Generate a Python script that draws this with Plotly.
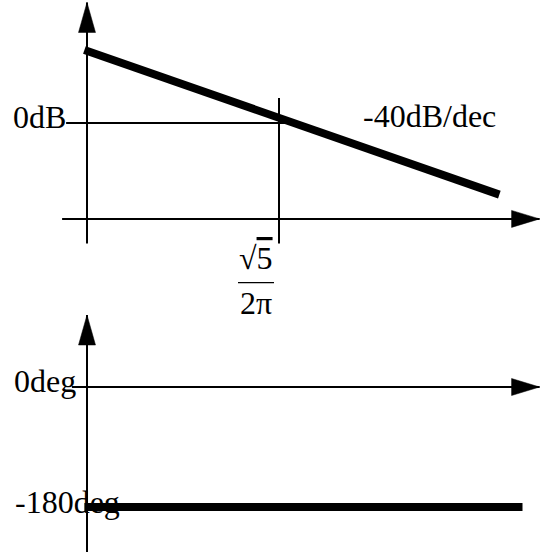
import numpy as np
import plotly.graph_objects as go

W, H = 542, 552

# Crossover frequency sqrt(5) / (2*pi)
f_c = np.sqrt(5) / (2 * np.pi)

# Magnitude asymptote: -40 dB/dec
mag_freq = [0.0345, 5.0]
mag_db = [43.6, -42.8]

# Phase asymptote: constant -180 deg
phase_freq = [0.0345, 6.6]
phase_deg = [-180, -180]

# Axis sketch extents
axis_freq = f_c / 10                 # where both vertical axes stand
mag_axis_db = [-72, 72]              # vertical magnitude axis
freq_axis_db = -57.3                 # level of the magnitude plot's frequency axis
freq_axis_span = [0.0264, 8.1]
zero_db_span = [0.0277, 0.471]       # 0 dB reference line
cross_db = [-72, 15]                 # vertical line at the crossover
phase_axis_deg = [-250, 108]         # vertical phase axis
phase_freq_axis_span = [0.0297, 8.1] # 0 deg axis

# Scales (pixels per unit)
DEC_PX = 192.0
DB_PX = 1.674
DEG_PX = 120.0 / 180.0

FONT = dict(family="Liberation Serif, Times New Roman, serif", size=32, color="black")


def fshift(f, dpx):
    return f * 10 ** (dpx / DEC_PX)


def arrow_up(f, v, scale, length=30, hw=8.5):
    base = v - length / scale
    return ([fshift(f, -hw), f, fshift(f, hw), fshift(f, -hw)],
            [base, v, base, base])


def arrow_right(f, v, scale, length=28, hw=8.5):
    base = fshift(f, -length)
    return ([base, f, base, base],
            [v + hw / scale, v, v - hw / scale, v + hw / scale])


fig = go.Figure()


def seg(x, y, width, yaxis="y"):
    fig.add_trace(go.Scatter(x=x, y=y, mode="lines", yaxis=yaxis,
                             line=dict(color="black", width=width),
                             hoverinfo="skip", showlegend=False))


def tri(xy, yaxis="y"):
    x, y = xy
    fig.add_trace(go.Scatter(x=x, y=y, mode="lines", fill="toself", yaxis=yaxis,
                             fillcolor="black", line=dict(color="black", width=0.5),
                             hoverinfo="skip", showlegend=False))


# ---- magnitude plot ----
seg([axis_freq, axis_freq], mag_axis_db, 2)
tri(arrow_up(axis_freq, mag_axis_db[1], DB_PX))
seg(freq_axis_span, [freq_axis_db, freq_axis_db], 2)
tri(arrow_right(freq_axis_span[1], freq_axis_db, DB_PX))
seg(zero_db_span, [0, 0], 2)
seg([f_c, f_c], cross_db, 2)
seg(mag_freq, mag_db, 8)

# ---- phase plot ----
seg([axis_freq, axis_freq], phase_axis_deg, 2, "y2")
tri(arrow_up(axis_freq, phase_axis_deg[1], DEG_PX), "y2")
seg(phase_freq_axis_span, [0, 0], 2, "y2")
tri(arrow_right(phase_freq_axis_span[1], 0, DEG_PX), "y2")
seg(phase_freq, phase_deg, 8, "y2")

# fraction bar under the crossover label
bar_db = cross_db[0] - 39 / DB_PX
seg([fshift(f_c, -41), fshift(f_c, -5)], [bar_db, bar_db], 1.2)

ann = dict(showarrow=False, font=FONT, borderpad=0, borderwidth=0)
annotations = [
    dict(x=np.log10(zero_db_span[0]), y=0, xref="x", yref="y",
         xanchor="right", yanchor="middle", yshift=6, text="0dB", **ann),
    dict(x=np.log10(1.0), y=0, xref="x", yref="y", xshift=-2,
         xanchor="left", yanchor="middle", yshift=7, text="-40dB/dec", **ann),
    dict(x=np.log10(f_c), y=cross_db[0], xref="x", yref="y", xshift=-23,
         xanchor="center", yanchor="middle", yshift=-14,
         text="√<span style='text-decoration:overline'>5</span>", **ann),
    dict(x=np.log10(f_c), y=cross_db[0], xref="x", yref="y", xshift=-23,
         xanchor="center", yanchor="middle", yshift=-59, text="2π", **ann),
    dict(x=14 / W, y=0, xref="paper", yref="y2",
         xanchor="left", yanchor="middle", yshift=6, text="0deg", **ann),
    dict(x=15 / W, y=-180, xref="paper", yref="y2",
         xanchor="left", yanchor="middle", yshift=5, text="-180deg", **ann),
]

lx = np.log10(f_c)
fig.update_layout(
    width=W, height=H, autosize=False,
    margin=dict(l=0, r=0, t=0, b=0, pad=0),
    paper_bgcolor="white", plot_bgcolor="white",
    xaxis=dict(type="log", range=[lx - 279 / DEC_PX, lx + (W - 279) / DEC_PX],
               visible=False, fixedrange=True),
    yaxis=dict(range=[-(H - 123) / DB_PX, 123 / DB_PX], visible=False,
               domain=[0, 1], fixedrange=True),
    yaxis2=dict(range=[-(H - 387) / DEG_PX, 387 / DEG_PX], visible=False,
                overlaying="y", fixedrange=True),
    annotations=annotations,
)

fig.write_html("out.html", config={"displayModeBar": False})
